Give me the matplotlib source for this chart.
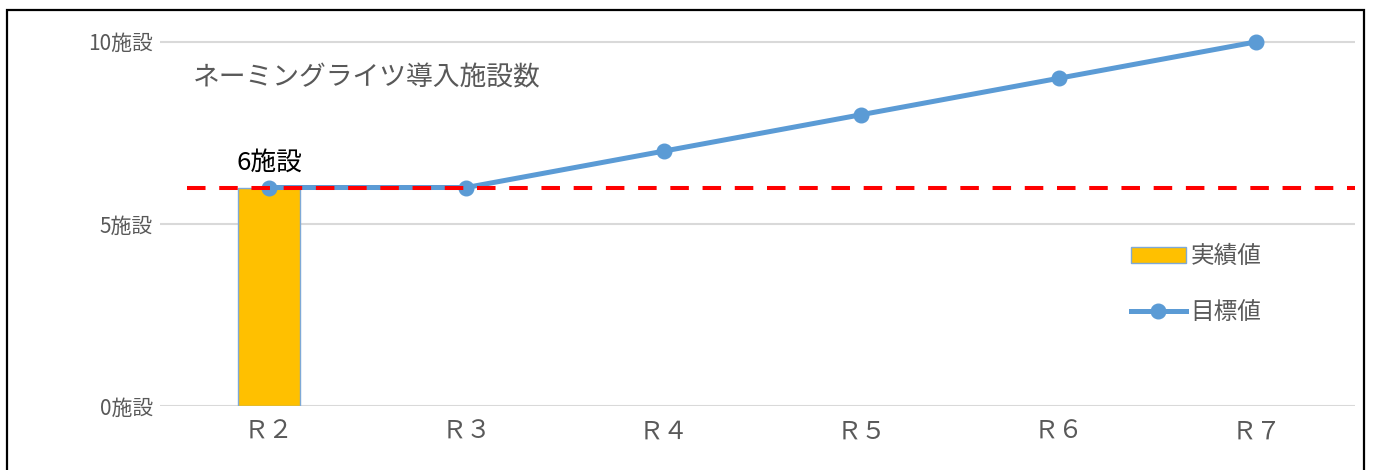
import numpy as np
import matplotlib
matplotlib.use("Agg")
import matplotlib.pyplot as plt
from matplotlib.patches import Patch, Rectangle
from matplotlib.lines import Line2D

plt.rcParams['font.family'] = ['Noto Sans CJK JP', 'DejaVu Sans']

# 年度と施設数
years = ["Ｒ２", "Ｒ３", "Ｒ４", "Ｒ５", "Ｒ６", "Ｒ７"]
actual = [6]                      # 実績値 (R2のみ)
target = [6, 6, 7, 8, 9, 10]      # 目標値
baseline = 6                      # 赤の破線
ytick_vals = [0, 5, 10]
ytick_labels = ["0施設", "5施設", "10施設"]

gray = "#595959"

fig = plt.figure(figsize=(13.73, 4.70), dpi=100)
ax = fig.add_axes([160 / 1373, 1 - 406 / 470, 1195 / 1373, 386 / 470])

x = np.arange(len(years))

# 棒(実績)
ax.bar(x[:len(actual)], actual, width=0.314, color="#FFC000",
       edgecolor="#7FA9D6", linewidth=1.0, zorder=2)

# 折れ線(目標)
ax.plot(x, target, color="#5B9BD5", lw=3.6, marker="o", markersize=10.5,
        zorder=3, clip_on=False)

# 赤の破線
ax.hlines(baseline, -0.415, 5.6, colors="#FF0000", linestyles=(0, (4.6, 3.4)),
          lw=2.9, zorder=4)

# 実績ラベル
ax.text(x[0], actual[0] + 0.33, f"{actual[0]}施設", ha="center", va="bottom",
        fontsize=18.5, color="black", zorder=5)

# タイトル
ax.text(-0.385, 9.01, "ネーミングライツ導入施設数", ha="left", va="center",
        fontsize=19.3, color=gray)

ax.set_xlim(-0.552, 5.50)
ax.set_ylim(0, 10.6)
ax.set_xticks(x)
ax.set_xticklabels(years, fontsize=18, color=gray)
ax.set_yticks(ytick_vals)
ax.set_yticklabels(ytick_labels, fontsize=15, color=gray)
ax.tick_params(axis="both", length=0)
ax.tick_params(axis="x", pad=9)
ax.tick_params(axis="y", pad=5)

ax.grid(axis="y", color="#D9D9D9", lw=1.5, zorder=0)
ax.set_axisbelow(True)
for s in ax.spines.values():
    s.set_visible(False)

handles = [
    Patch(facecolor="#FFC000", edgecolor="#7FA9D6", linewidth=1.0),
    Line2D([0], [0], color="#5B9BD5", lw=3.6, marker="o", markersize=10.5),
]
fig.legend(handles, ["実績値", "目標値"], loc="upper left",
           bbox_to_anchor=(1110 / 1373, 1 - 224 / 470), frameon=False,
           fontsize=17, labelcolor=gray, handlelength=2.3,
           handletextpad=0.2, labelspacing=1.4)

# 外枠
fig.patches.append(Rectangle((7 / 1373, -0.1), 1357 / 1373, 1.1 - 10 / 470,
                             transform=fig.transFigure, fill=False,
                             edgecolor="black", lw=1.6))

fig.savefig("out.png", dpi=100, facecolor="white")
